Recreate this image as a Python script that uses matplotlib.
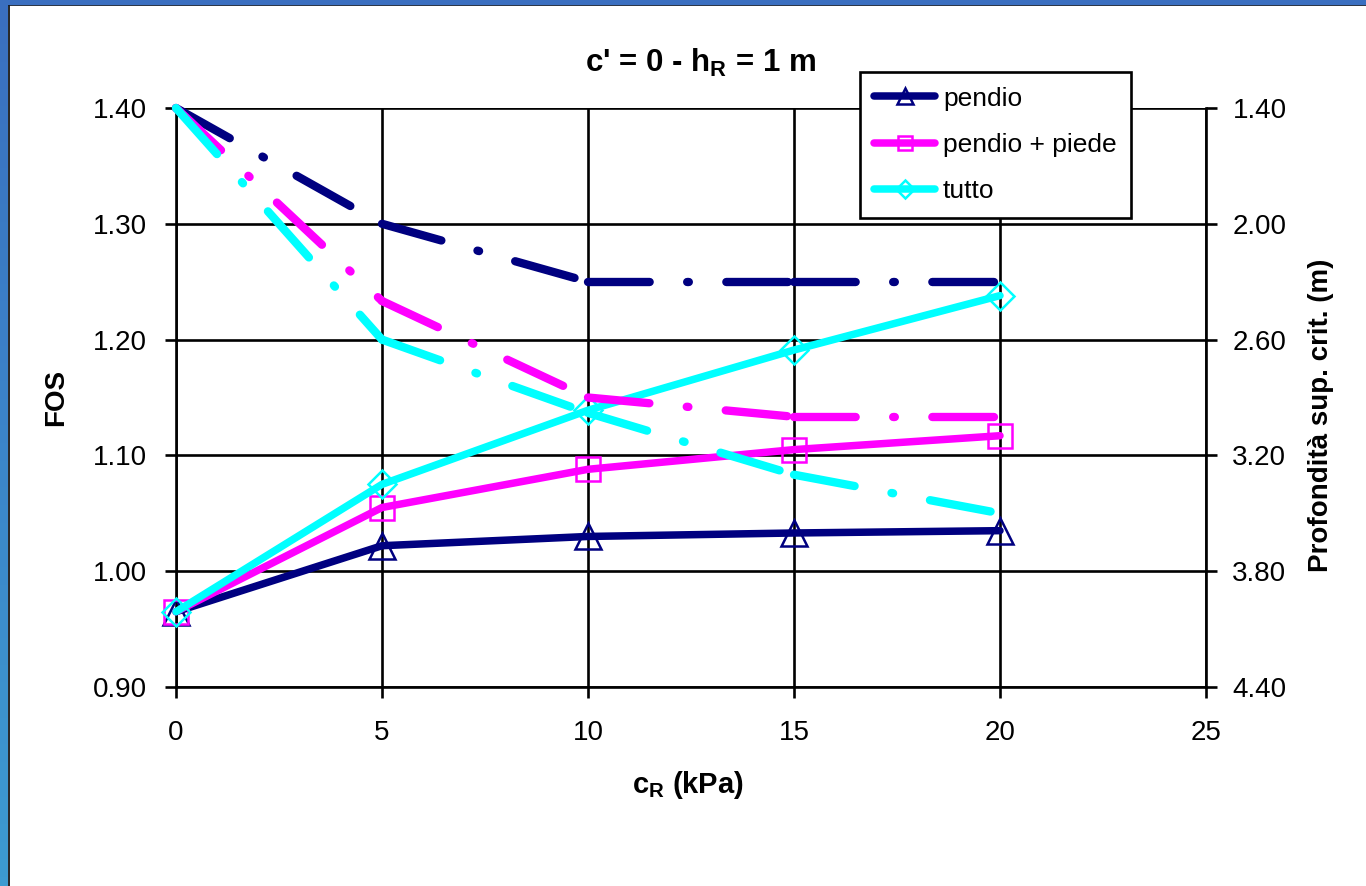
import numpy as np
import matplotlib
matplotlib.use("Agg")
import matplotlib.pyplot as plt
from matplotlib.colors import LinearSegmentedColormap

# dati
cR = [0, 5, 10, 15, 20]
serie = ["pendio", "pendio + piede", "tutto"]
fos_pendio = [0.965, 1.022, 1.030, 1.033, 1.035]
fos_piede = [0.965, 1.055, 1.088, 1.105, 1.117]
fos_tutto = [0.965, 1.075, 1.139, 1.191, 1.238]
prof_pendio = [1.40, 2.00, 2.30, 2.30, 2.30]
prof_piede = [1.40, 2.40, 2.90, 3.00, 3.00]
prof_tutto = [1.40, 2.60, 2.98, 3.30, 3.50]
yticks_fos = [0.90, 1.00, 1.10, 1.20, 1.30, 1.40]
yticks_prof = [1.40, 2.00, 2.60, 3.20, 3.80, 4.40]
xticks = [0, 5, 10, 15, 20, 25]

colori = ["#000080", "#FF00FF", "#00FFFF"]
marker = ["^", "s", "D"]
msize = [19, 17, 14]

plt.rcParams["font.family"] = ["Liberation Sans", "DejaVu Sans"]

fig = plt.figure(figsize=(13.66, 8.86), dpi=100)

# cornice blu (bordo della slide)
bordo = fig.add_axes([0, 0, 8 / 1366, 1])
grad = np.linspace(0, 1, 100).reshape(-1, 1)
cm = LinearSegmentedColormap.from_list("b", ["#3d9bd0", "#3a6fc0"])
bordo.imshow(grad, aspect="auto", cmap=cm, origin="lower")
bordo.axis("off")
fig.patches.append(plt.Rectangle((0, 1 - 4 / 886), 1, 4 / 886, transform=fig.transFigure,
                                 color="#3a6fc0", zorder=5))
fig.lines.append(plt.Line2D([8.5 / 1366, 8.5 / 1366], [0, 1 - 4 / 886], transform=fig.transFigure,
                            color="black", lw=1.2))
fig.lines.append(plt.Line2D([8.5 / 1366, 1], [1 - 4.5 / 886, 1 - 4.5 / 886], transform=fig.transFigure,
                            color="black", lw=1.2))

ax = fig.add_axes([176 / 1366, 1 - 687 / 886, 1030 / 1366, 579 / 886])
ax2 = ax.twinx()

fos = [fos_pendio, fos_piede, fos_tutto]
prof = [prof_pendio, prof_piede, prof_tutto]

handles = []
for i in range(3):
    h, = ax.plot(cR, fos[i], color=colori[i], lw=5.4, marker=marker[i], ms=msize[i],
                 mfc="none", mec=colori[i], mew=1.8, solid_capstyle="round", solid_joinstyle="round",
                 label=serie[i], clip_on=False, zorder=3 + i)
    handles.append(h)

# tratto-punto: Excel riparte col motivo ad ogni segmento
for i in range(3):
    for j in range(len(cR) - 1):
        l, = ax2.plot(cR[j:j + 2], prof[i][j:j + 2], color=colori[i], lw=6,
                      dash_capstyle="round", clip_on=False)
        l.set_dashes([7.4, 4.5, 0.2, 4.5])

ax.set_xlim(0, 25)
ax.set_ylim(0.90, 1.40)
ax2.set_ylim(4.40, 1.40)
ax.set_xticks(xticks)
ax.set_yticks(yticks_fos)
ax.set_yticklabels(["%.2f" % v for v in yticks_fos])
ax2.set_yticks(yticks_prof)
ax2.set_yticklabels(["%.2f" % v for v in yticks_prof])

ax.grid(True, color="black", lw=1.9)
ax.set_axisbelow(True)
for a in (ax, ax2):
    for s in a.spines.values():
        s.set_linewidth(1.9)
    a.spines["top"].set_visible(False)
ax.spines["right"].set_visible(False)
ax2.spines["left"].set_visible(False)
ax2.spines["bottom"].set_visible(False)

ax.tick_params(axis="y", direction="out", length=8, width=1.9, pad=13, labelsize=20)
ax.tick_params(axis="x", direction="out", length=8, width=1.9, pad=16, labelsize=20)
ax2.tick_params(axis="y", direction="out", length=8, width=1.9, pad=11, labelsize=20)

ax.text(0.509, 1.062, "c' = 0 - h$_{\\mathregular{R}}$ = 1 m", transform=ax.transAxes,
        ha="center", va="baseline", fontsize=22.5, fontweight="bold")
ax.text(0.497, -0.169, "c$_{\\mathregular{R}}$ (kPa)", transform=ax.transAxes, ha="center",
        va="center", fontsize=21, fontweight="bold")
ax.text(-0.1165, 0.5, "FOS", transform=ax.transAxes, rotation=90, ha="center", va="center",
        fontsize=20, fontweight="bold")
ax2.text(1.112, 0.47, "Profondità sup. crit. (m)", transform=ax.transAxes, rotation=90,
         ha="center", va="center", fontsize=20, fontweight="bold")

leg = ax2.legend(handles=handles, loc="upper left", bbox_to_anchor=(0.664, 1.062), fontsize=19,
                 frameon=True, fancybox=False, edgecolor="black", framealpha=1, markerscale=0.62,
                 handlelength=2.3, handletextpad=0.3, labelspacing=0.85, borderpad=0.55,
                 borderaxespad=0)
leg.get_frame().set_linewidth(1.9)
leg.set_zorder(10)

fig.savefig("out.png", dpi=100)
